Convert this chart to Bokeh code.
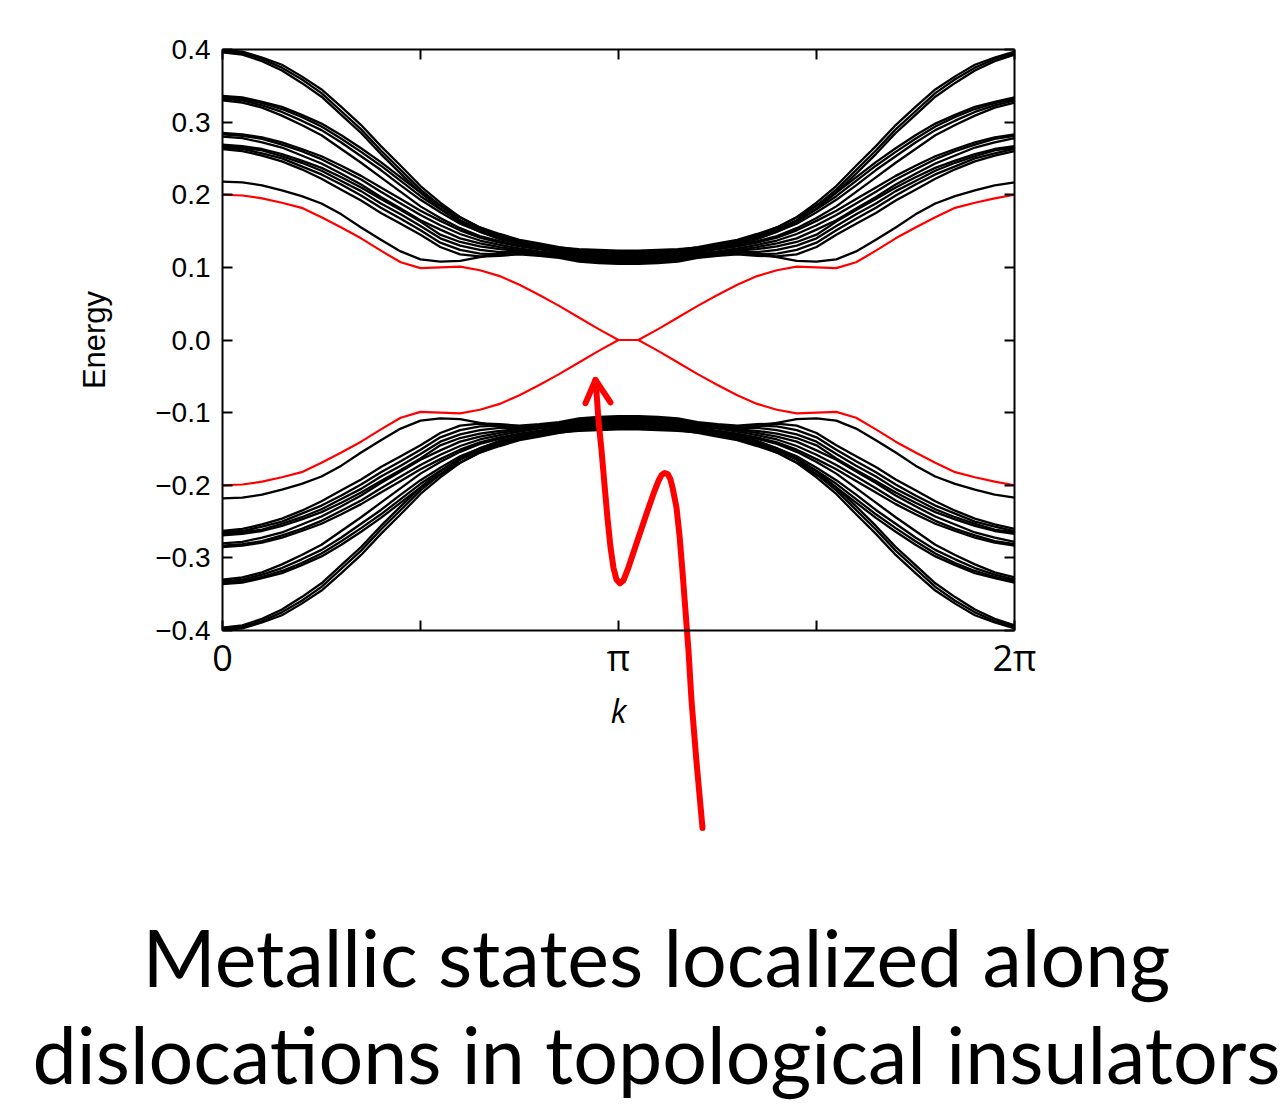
import json
import numpy as np
from bokeh.plotting import figure
from bokeh.models import FixedTicker, LinearAxis, CustomJSTickFormatter, Range1d, Label
from bokeh.embed import file_html
from bokeh.resources import INLINE

PI = np.pi

# ---------------- data ----------------
K = np.linspace(0, 2 * PI, 41)   # k samples (step pi/20)

UPPER_A = [
    [0.399, 0.397, 0.389, 0.379, 0.363, 0.345, 0.321, 0.296, 0.267, 0.240, 0.212, 0.189, 0.169, 0.155, 0.144, 0.136, 0.131, 0.127, 0.125, 0.124, 0.123,
     0.123, 0.124, 0.125, 0.127, 0.131, 0.136, 0.144, 0.155, 0.169, 0.189, 0.212, 0.240, 0.267, 0.296, 0.321, 0.345, 0.363, 0.379, 0.389, 0.397],
    [0.398, 0.395, 0.387, 0.375, 0.359, 0.340, 0.315, 0.290, 0.261, 0.234, 0.207, 0.185, 0.165, 0.152, 0.142, 0.134, 0.129, 0.125, 0.122, 0.121, 0.120,
     0.120, 0.121, 0.122, 0.125, 0.129, 0.134, 0.142, 0.152, 0.165, 0.185, 0.207, 0.234, 0.261, 0.290, 0.315, 0.340, 0.359, 0.375, 0.387, 0.395],
    [0.396, 0.393, 0.384, 0.371, 0.354, 0.335, 0.310, 0.285, 0.256, 0.229, 0.203, 0.181, 0.162, 0.149, 0.139, 0.132, 0.127, 0.123, 0.119, 0.118, 0.117,
     0.117, 0.118, 0.119, 0.123, 0.127, 0.132, 0.139, 0.149, 0.162, 0.181, 0.203, 0.229, 0.256, 0.285, 0.310, 0.335, 0.354, 0.371, 0.384, 0.393],
]
UPPER_B = [
    [0.336, 0.334, 0.328, 0.321, 0.310, 0.298, 0.282, 0.264, 0.245, 0.224, 0.203, 0.185, 0.169, 0.155, 0.146, 0.138, 0.133, 0.128, 0.124, 0.123, 0.122,
     0.122, 0.123, 0.124, 0.128, 0.133, 0.138, 0.146, 0.155, 0.169, 0.185, 0.203, 0.224, 0.245, 0.264, 0.282, 0.298, 0.310, 0.321, 0.328, 0.334],
    [0.334, 0.332, 0.326, 0.318, 0.307, 0.294, 0.277, 0.259, 0.240, 0.219, 0.198, 0.180, 0.164, 0.152, 0.143, 0.135, 0.130, 0.126, 0.122, 0.120, 0.119,
     0.119, 0.120, 0.122, 0.126, 0.130, 0.135, 0.143, 0.152, 0.164, 0.180, 0.198, 0.219, 0.240, 0.259, 0.277, 0.294, 0.307, 0.318, 0.326, 0.332],
    [0.332, 0.330, 0.323, 0.314, 0.302, 0.289, 0.272, 0.253, 0.234, 0.213, 0.193, 0.176, 0.160, 0.149, 0.140, 0.133, 0.128, 0.124, 0.120, 0.118, 0.117,
     0.117, 0.118, 0.120, 0.124, 0.128, 0.133, 0.140, 0.149, 0.160, 0.176, 0.193, 0.213, 0.234, 0.253, 0.272, 0.289, 0.302, 0.314, 0.323, 0.330],
    [0.330, 0.327, 0.320, 0.309, 0.296, 0.282, 0.263, 0.244, 0.224, 0.204, 0.184, 0.168, 0.154, 0.143, 0.136, 0.130, 0.125, 0.121, 0.117, 0.115, 0.114,
     0.114, 0.115, 0.117, 0.121, 0.125, 0.130, 0.136, 0.143, 0.154, 0.168, 0.184, 0.204, 0.224, 0.244, 0.263, 0.282, 0.296, 0.309, 0.320, 0.327],
]
UPPER_C = [
    [0.285, 0.283, 0.279, 0.272, 0.263, 0.253, 0.240, 0.226, 0.210, 0.194, 0.178, 0.164, 0.151, 0.141, 0.134, 0.129, 0.125, 0.122, 0.119, 0.117, 0.116,
     0.116, 0.117, 0.119, 0.122, 0.125, 0.129, 0.134, 0.141, 0.151, 0.164, 0.178, 0.194, 0.210, 0.226, 0.240, 0.253, 0.263, 0.272, 0.279, 0.283],
    [0.283, 0.281, 0.277, 0.269, 0.260, 0.249, 0.235, 0.221, 0.204, 0.188, 0.172, 0.158, 0.146, 0.137, 0.131, 0.126, 0.122, 0.119, 0.116, 0.114, 0.113,
     0.113, 0.114, 0.116, 0.119, 0.122, 0.126, 0.131, 0.137, 0.146, 0.158, 0.172, 0.188, 0.204, 0.221, 0.235, 0.249, 0.260, 0.269, 0.277, 0.281],
    [0.280, 0.278, 0.272, 0.265, 0.254, 0.243, 0.229, 0.214, 0.197, 0.181, 0.165, 0.152, 0.140, 0.133, 0.128, 0.124, 0.120, 0.117, 0.113, 0.111, 0.110,
     0.110, 0.111, 0.113, 0.117, 0.120, 0.124, 0.128, 0.133, 0.140, 0.152, 0.165, 0.181, 0.197, 0.214, 0.229, 0.243, 0.254, 0.265, 0.272, 0.278],
]
UPPER_D = [
    [0.269, 0.267, 0.263, 0.256, 0.247, 0.237, 0.224, 0.210, 0.194, 0.179, 0.163, 0.145, 0.135, 0.129, 0.125, 0.123, 0.120, 0.117, 0.114, 0.112, 0.111,
     0.111, 0.112, 0.114, 0.117, 0.120, 0.123, 0.125, 0.129, 0.135, 0.145, 0.163, 0.179, 0.194, 0.210, 0.224, 0.237, 0.247, 0.256, 0.263, 0.267],
    [0.267, 0.265, 0.261, 0.253, 0.244, 0.233, 0.219, 0.205, 0.188, 0.173, 0.157, 0.140, 0.130, 0.124, 0.121, 0.121, 0.118, 0.115, 0.112, 0.110, 0.109,
     0.109, 0.110, 0.112, 0.115, 0.118, 0.121, 0.121, 0.124, 0.130, 0.140, 0.157, 0.173, 0.188, 0.205, 0.219, 0.233, 0.244, 0.253, 0.261, 0.265],
    [0.265, 0.263, 0.257, 0.250, 0.239, 0.228, 0.214, 0.199, 0.182, 0.167, 0.151, 0.134, 0.124, 0.119, 0.118, 0.119, 0.117, 0.114, 0.110, 0.108, 0.107,
     0.107, 0.108, 0.110, 0.114, 0.117, 0.119, 0.118, 0.119, 0.124, 0.134, 0.151, 0.167, 0.182, 0.199, 0.214, 0.228, 0.239, 0.250, 0.257, 0.263],
    [0.263, 0.260, 0.254, 0.246, 0.235, 0.222, 0.207, 0.192, 0.175, 0.160, 0.145, 0.128, 0.118, 0.115, 0.116, 0.118, 0.116, 0.113, 0.108, 0.106, 0.105,
     0.105, 0.106, 0.108, 0.113, 0.116, 0.118, 0.116, 0.115, 0.118, 0.128, 0.145, 0.160, 0.175, 0.192, 0.207, 0.222, 0.235, 0.246, 0.254, 0.260],
]
UPPER_E = [
    [0.218, 0.217, 0.213, 0.206, 0.198, 0.188, 0.173, 0.155, 0.138, 0.122, 0.111, 0.108, 0.109, 0.114, 0.119, 0.120, 0.119, 0.116, 0.112, 0.108, 0.106,
     0.106, 0.108, 0.112, 0.116, 0.119, 0.120, 0.119, 0.114, 0.109, 0.108, 0.111, 0.122, 0.138, 0.155, 0.173, 0.188, 0.198, 0.206, 0.213, 0.217],
]

LOWER_A = [
    [-0.399, -0.397, -0.389, -0.379, -0.363, -0.345, -0.321, -0.296, -0.267, -0.240, -0.212, -0.189, -0.169, -0.155, -0.144, -0.136, -0.131, -0.127, -0.125, -0.124, -0.123,
     -0.123, -0.124, -0.125, -0.127, -0.131, -0.136, -0.144, -0.155, -0.169, -0.189, -0.212, -0.240, -0.267, -0.296, -0.321, -0.345, -0.363, -0.379, -0.389, -0.397],
    [-0.398, -0.395, -0.387, -0.375, -0.359, -0.340, -0.315, -0.290, -0.261, -0.234, -0.207, -0.185, -0.165, -0.152, -0.142, -0.134, -0.129, -0.125, -0.122, -0.121, -0.120,
     -0.120, -0.121, -0.122, -0.125, -0.129, -0.134, -0.142, -0.152, -0.165, -0.185, -0.207, -0.234, -0.261, -0.290, -0.315, -0.340, -0.359, -0.375, -0.387, -0.395],
    [-0.396, -0.393, -0.384, -0.371, -0.354, -0.335, -0.310, -0.285, -0.256, -0.229, -0.203, -0.181, -0.162, -0.149, -0.139, -0.132, -0.127, -0.123, -0.119, -0.118, -0.117,
     -0.117, -0.118, -0.119, -0.123, -0.127, -0.132, -0.139, -0.149, -0.162, -0.181, -0.203, -0.229, -0.256, -0.285, -0.310, -0.335, -0.354, -0.371, -0.384, -0.393],
]
LOWER_B = [
    [-0.336, -0.334, -0.328, -0.321, -0.310, -0.298, -0.282, -0.264, -0.245, -0.224, -0.203, -0.185, -0.169, -0.155, -0.146, -0.138, -0.133, -0.128, -0.124, -0.123, -0.122,
     -0.122, -0.123, -0.124, -0.128, -0.133, -0.138, -0.146, -0.155, -0.169, -0.185, -0.203, -0.224, -0.245, -0.264, -0.282, -0.298, -0.310, -0.321, -0.328, -0.334],
    [-0.334, -0.332, -0.326, -0.318, -0.307, -0.294, -0.277, -0.259, -0.240, -0.219, -0.198, -0.180, -0.164, -0.152, -0.143, -0.135, -0.130, -0.126, -0.122, -0.120, -0.119,
     -0.119, -0.120, -0.122, -0.126, -0.130, -0.135, -0.143, -0.152, -0.164, -0.180, -0.198, -0.219, -0.240, -0.259, -0.277, -0.294, -0.307, -0.318, -0.326, -0.332],
    [-0.332, -0.330, -0.323, -0.314, -0.302, -0.289, -0.272, -0.253, -0.234, -0.213, -0.193, -0.176, -0.160, -0.149, -0.140, -0.133, -0.128, -0.124, -0.120, -0.118, -0.117,
     -0.117, -0.118, -0.120, -0.124, -0.128, -0.133, -0.140, -0.149, -0.160, -0.176, -0.193, -0.213, -0.234, -0.253, -0.272, -0.289, -0.302, -0.314, -0.323, -0.330],
    [-0.330, -0.327, -0.320, -0.309, -0.296, -0.282, -0.263, -0.244, -0.224, -0.204, -0.184, -0.168, -0.154, -0.143, -0.136, -0.130, -0.125, -0.121, -0.117, -0.115, -0.114,
     -0.114, -0.115, -0.117, -0.121, -0.125, -0.130, -0.136, -0.143, -0.154, -0.168, -0.184, -0.204, -0.224, -0.244, -0.263, -0.282, -0.296, -0.309, -0.320, -0.327],
]
LOWER_C = [
    [-0.285, -0.283, -0.279, -0.272, -0.263, -0.253, -0.240, -0.226, -0.210, -0.194, -0.178, -0.164, -0.151, -0.141, -0.134, -0.129, -0.125, -0.122, -0.119, -0.117, -0.116,
     -0.116, -0.117, -0.119, -0.122, -0.125, -0.129, -0.134, -0.141, -0.151, -0.164, -0.178, -0.194, -0.210, -0.226, -0.240, -0.253, -0.263, -0.272, -0.279, -0.283],
    [-0.283, -0.281, -0.277, -0.269, -0.260, -0.249, -0.235, -0.221, -0.204, -0.188, -0.172, -0.158, -0.146, -0.137, -0.131, -0.126, -0.122, -0.119, -0.116, -0.114, -0.113,
     -0.113, -0.114, -0.116, -0.119, -0.122, -0.126, -0.131, -0.137, -0.146, -0.158, -0.172, -0.188, -0.204, -0.221, -0.235, -0.249, -0.260, -0.269, -0.277, -0.281],
    [-0.280, -0.278, -0.272, -0.265, -0.254, -0.243, -0.229, -0.214, -0.197, -0.181, -0.165, -0.152, -0.140, -0.133, -0.128, -0.124, -0.120, -0.117, -0.113, -0.111, -0.110,
     -0.110, -0.111, -0.113, -0.117, -0.120, -0.124, -0.128, -0.133, -0.140, -0.152, -0.165, -0.181, -0.197, -0.214, -0.229, -0.243, -0.254, -0.265, -0.272, -0.278],
]
LOWER_D = [
    [-0.269, -0.267, -0.263, -0.256, -0.247, -0.237, -0.224, -0.210, -0.194, -0.179, -0.163, -0.145, -0.135, -0.129, -0.125, -0.123, -0.120, -0.117, -0.114, -0.112, -0.111,
     -0.111, -0.112, -0.114, -0.117, -0.120, -0.123, -0.125, -0.129, -0.135, -0.145, -0.163, -0.179, -0.194, -0.210, -0.224, -0.237, -0.247, -0.256, -0.263, -0.267],
    [-0.267, -0.265, -0.261, -0.253, -0.244, -0.233, -0.219, -0.205, -0.188, -0.173, -0.157, -0.140, -0.130, -0.124, -0.121, -0.121, -0.118, -0.115, -0.112, -0.110, -0.109,
     -0.109, -0.110, -0.112, -0.115, -0.118, -0.121, -0.121, -0.124, -0.130, -0.140, -0.157, -0.173, -0.188, -0.205, -0.219, -0.233, -0.244, -0.253, -0.261, -0.265],
    [-0.265, -0.263, -0.257, -0.250, -0.239, -0.228, -0.214, -0.199, -0.182, -0.167, -0.151, -0.134, -0.124, -0.119, -0.118, -0.119, -0.117, -0.114, -0.110, -0.108, -0.107,
     -0.107, -0.108, -0.110, -0.114, -0.117, -0.119, -0.118, -0.119, -0.124, -0.134, -0.151, -0.167, -0.182, -0.199, -0.214, -0.228, -0.239, -0.250, -0.257, -0.263],
    [-0.263, -0.260, -0.254, -0.246, -0.235, -0.222, -0.207, -0.192, -0.175, -0.160, -0.145, -0.128, -0.118, -0.115, -0.116, -0.118, -0.116, -0.113, -0.108, -0.106, -0.105,
     -0.105, -0.106, -0.108, -0.113, -0.116, -0.118, -0.116, -0.115, -0.118, -0.128, -0.145, -0.160, -0.175, -0.192, -0.207, -0.222, -0.235, -0.246, -0.254, -0.260],
]
LOWER_E = [
    [-0.218, -0.217, -0.213, -0.206, -0.198, -0.188, -0.173, -0.155, -0.138, -0.122, -0.111, -0.108, -0.109, -0.114, -0.119, -0.120, -0.119, -0.116, -0.112, -0.108, -0.106,
     -0.106, -0.108, -0.112, -0.116, -0.119, -0.120, -0.119, -0.114, -0.109, -0.108, -0.111, -0.122, -0.138, -0.155, -0.173, -0.188, -0.198, -0.206, -0.213, -0.217],
]

RED_BAND_1 = [0.200, 0.199, 0.195, 0.189, 0.182, 0.169, 0.155, 0.140, 0.123, 0.107, 0.099,
              0.100, 0.101, 0.096, 0.088, 0.076, 0.062, 0.047, 0.031, 0.015, 0.000, 0.000,
              -0.015, -0.031, -0.047, -0.062, -0.076, -0.088, -0.096, -0.101, -0.100,
              -0.099, -0.107, -0.123, -0.140, -0.155, -0.169, -0.182, -0.189, -0.195, -0.200]
RED_BAND_2 = [-0.200, -0.199, -0.195, -0.189, -0.182, -0.169, -0.155, -0.140, -0.123, -0.107, -0.099,
              -0.100, -0.101, -0.096, -0.088, -0.076, -0.062, -0.047, -0.031, -0.015, 0.000, 0.000,
              0.015, 0.031, 0.047, 0.062, 0.076, 0.088, 0.096, 0.101, 0.100,
              0.099, 0.107, 0.123, 0.140, 0.155, 0.169, 0.182, 0.189, 0.195, 0.200]

X_TICKS = [0.0, PI, 2 * PI]
X_TICK_LABELS = ["0", "\u03c0", "2\u03c0"]
X_MINOR_TICKS = [PI / 2, 3 * PI / 2]
Y_TICKS = [-0.4, -0.3, -0.2, -0.1, 0.0, 0.1, 0.2, 0.3, 0.4]
K_MIN, K_MAX = 0.0, 2 * PI
E_MIN, E_MAX = -0.4, 0.4

# hand-drawn annotation arrow (data coordinates)
ARROW_K = [3.808, 3.760, 3.721, 3.697, 3.673, 3.649, 3.626, 3.602, 3.570, 3.554, 3.534,
           3.507, 3.483, 3.459, 3.427, 3.372, 3.292, 3.221, 3.181, 3.154, 3.126, 3.102,
           3.078, 3.054, 3.030, 3.007, 2.983, 2.967, 2.959]
ARROW_E = [-0.672, -0.580, -0.497, -0.428, -0.373, -0.318, -0.270, -0.231, -0.203, -0.192,
           -0.185, -0.183, -0.186, -0.194, -0.208, -0.235, -0.276, -0.313, -0.331, -0.335,
           -0.330, -0.314, -0.285, -0.245, -0.198, -0.152, -0.111, -0.072, -0.055]
HEAD_K = [2.880, 2.959, 3.078]
HEAD_E = [-0.087, -0.055, -0.086]

CAPTION = ["Metallic states localized along", "dislocations in topological insulators"]
CAPTION_K = 3.443
CAPTION_E = [-0.849, -0.983]

# ---------------- layout (pixels) ----------------
W, H = 1280, 1106
FRAME_L, FRAME_R, FRAME_T, FRAME_B = 222, 1014, 49, 630
px_per_k = (FRAME_R - FRAME_L) / (K_MAX - K_MIN)
px_per_e = (FRAME_B - FRAME_T) / (E_MAX - E_MIN)
x_range = Range1d(K_MIN - FRAME_L / px_per_k, K_MAX + (W - FRAME_R) / px_per_k)
y_range = Range1d(E_MIN - (H - FRAME_B) / px_per_e, E_MAX + FRAME_T / px_per_e)

p = figure(width=W, height=H, x_range=x_range, y_range=y_range,
           output_backend="svg", toolbar_location=None, x_axis_type=None, y_axis_type=None,
           min_border=0, min_border_left=0, min_border_right=0,
           min_border_top=0, min_border_bottom=0)
p.grid.visible = False
p.outline_line_color = None
p.background_fill_color = "white"
p.border_fill_color = "white"

black_groups = [UPPER_A, UPPER_B, UPPER_C, UPPER_D, UPPER_E,
                LOWER_A, LOWER_B, LOWER_C, LOWER_D, LOWER_E]
for grp in black_groups:
    for band in grp:
        p.line(K, band, line_color="black", line_width=2.3, line_join="round")

for band in (RED_BAND_1, RED_BAND_2):
    p.line(K, band, line_color="#ff0000", line_width=2.2, line_join="round")

x_fmt = CustomJSTickFormatter(code="""
const t = %s; const l = %s;
for (let i = 0; i < t.length; i++) { if (Math.abs(t[i] - tick) < 1e-6) return l[i]; }
return '';
""" % (json.dumps(X_TICKS), json.dumps(X_TICK_LABELS)))
y_fmt = CustomJSTickFormatter(code="return (tick < -1e-9 ? '\\u2212' : '') + Math.abs(tick).toFixed(1);")


def make_axis(ticker, loc, bounds, show_labels):
    ax = LinearAxis(ticker=ticker, fixed_location=loc, bounds=bounds)
    ax.axis_line_width = 2
    ax.axis_line_color = "black"
    ax.major_tick_in = 10
    ax.major_tick_out = 0
    ax.minor_tick_in = 10
    ax.minor_tick_out = 0
    ax.major_tick_line_width = 2
    ax.minor_tick_line_width = 2
    ax.major_tick_line_color = "black"
    ax.minor_tick_line_color = "black"
    if not show_labels:
        ax.major_label_text_color = None
    return ax


xax = make_axis(FixedTicker(ticks=X_TICKS, minor_ticks=X_MINOR_TICKS), E_MIN, (K_MIN, K_MAX), True)
xax.formatter = x_fmt
xax.major_label_text_font = "Open Sans"
xax.major_label_text_font_size = "36px"
xax.major_label_text_color = "black"
xax.major_label_standoff = 2
xax.axis_label = "k"
xax.axis_label_text_font = "Open Sans"
xax.axis_label_text_font_style = "italic"
xax.axis_label_text_font_size = "32px"
xax.axis_label_text_color = "black"
xax.axis_label_standoff = 4
p.add_layout(xax, "below")

yax = make_axis(FixedTicker(ticks=Y_TICKS, minor_ticks=[]), K_MIN, (E_MIN, E_MAX), True)
yax.formatter = y_fmt
yax.major_label_text_font = "Liberation Sans"
yax.major_label_text_font_size = "28px"
yax.major_label_text_color = "black"
yax.major_label_standoff = 12
yax.axis_label = "Energy"
yax.axis_label_text_font = "Liberation Sans"
yax.axis_label_text_font_style = "normal"
yax.axis_label_text_font_size = "31px"
yax.axis_label_text_color = "black"
yax.axis_label_standoff = 40
p.add_layout(yax, "left")

top = make_axis(FixedTicker(ticks=X_TICKS, minor_ticks=X_MINOR_TICKS), E_MAX, (K_MIN, K_MAX), False)
p.add_layout(top, "above")
right = make_axis(FixedTicker(ticks=Y_TICKS, minor_ticks=[]), K_MAX, (E_MIN, E_MAX), False)
p.add_layout(right, "right")

# hand-drawn red arrow pointing at the crossing
p.line(ARROW_K, ARROW_E, line_color="#ff0000", line_width=6, line_join="round", line_cap="round")
p.line(HEAD_K, HEAD_E, line_color="#ff0000", line_width=6, line_join="round", line_cap="round")

for txt, e in zip(CAPTION, CAPTION_E):
    p.add_layout(Label(x=CAPTION_K, y=e, text=txt, text_align="center",
                       text_baseline="alphabetic", text_font="Lato",
                       text_font_size="79px", text_color="black"))

open("out.html", "w").write(file_html(p, INLINE))
